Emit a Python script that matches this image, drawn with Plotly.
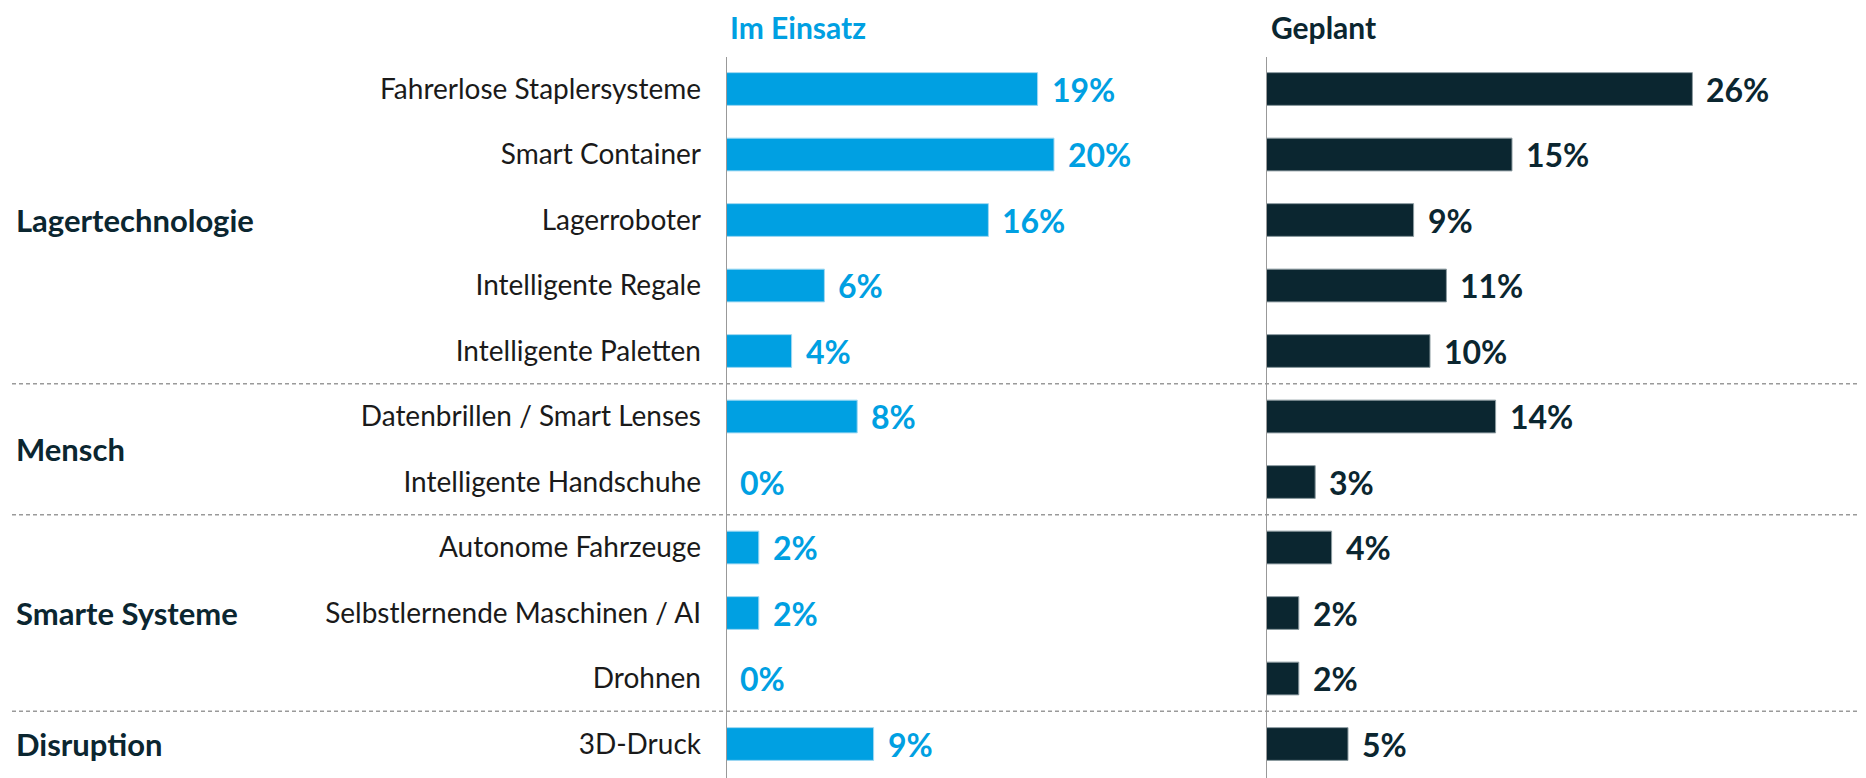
import plotly.graph_objects as go
from plotly.subplots import make_subplots

# Daten
kategorien = [
    "Fahrerlose Staplersysteme", "Smart Container", "Lagerroboter",
    "Intelligente Regale", "Intelligente Paletten",
    "Datenbrillen / Smart Lenses", "Intelligente Handschuhe",
    "Autonome Fahrzeuge", "Selbstlernende Maschinen / AI", "Drohnen",
    "3D-Druck",
]
im_einsatz = [19, 20, 16, 6, 4, 8, 0, 2, 2, 0, 9]
geplant = [26, 15, 9, 11, 10, 14, 3, 4, 2, 2, 5]

gruppen = ["Lagertechnologie", "Mensch", "Smarte Systeme", "Disruption"]
gruppen_pos = [2, 5.5, 8, 10]
trenner_pos = [4.5, 6.5, 9.5]

BLAU = "#00A0E2"
DUNKEL = "#0B2630"
FONT = "Lato"

# die Seite hat 8px Rand, daher Figur etwas kleiner
W, H = 1858, 770
px_pro_prozent = 16.4
links_x0, rechts_x0 = 718, 1258
zeile0, zeile_abstand = 81, 65.5

fig = make_subplots(rows=1, cols=2, shared_yaxes=True, horizontal_spacing=0)

fig.add_trace(go.Bar(
    y=kategorien, x=im_einsatz, orientation="h", marker_color=BLAU,
    marker_line=dict(color="#9FD8F2", width=1), width=0.5, showlegend=False,
), row=1, col=1)
fig.add_trace(go.Bar(
    y=kategorien, x=geplant, orientation="h", marker_color=DUNKEL,
    marker_line=dict(color="#8C9BA0", width=1), width=0.5, showlegend=False,
), row=1, col=2)

# Wertebeschriftungen
for kat, v in zip(kategorien, im_einsatz):
    fig.add_annotation(x=v, y=kat, xref="x", yref="y", text=f"<b>{v}%</b>",
                       showarrow=False, xanchor="left", yanchor="middle", xshift=12,
                       font=dict(family=FONT, size=32, color=BLAU))
for kat, v in zip(kategorien, geplant):
    fig.add_annotation(x=v, y=kat, xref="x2", yref="y", text=f"<b>{v}%</b>",
                       showarrow=False, xanchor="left", yanchor="middle", xshift=12,
                       font=dict(family=FONT, size=32, color=DUNKEL))

# Gruppenbeschriftungen
for g, p in zip(gruppen, gruppen_pos):
    fig.add_annotation(x=6 / W, y=p, xref="paper", yref="y", text=f"<b>{g}</b>",
                       showarrow=False, xanchor="left", yanchor="middle",
                       font=dict(family=FONT, size=31, color=DUNKEL))

# Spaltentitel
fig.add_annotation(x=721 / W, y=1, xref="paper", yref="paper",
                   text="<b>Im Einsatz</b>", showarrow=False,
                   xanchor="left", yanchor="top", borderpad=0,
                   font=dict(family=FONT, size=30, color=BLAU))
fig.add_annotation(x=1262 / W, y=1, xref="paper", yref="paper",
                   text="<b>Geplant</b>", showarrow=False,
                   xanchor="left", yanchor="top", borderpad=0,
                   font=dict(family=FONT, size=30, color=DUNKEL))

# gestrichelte Trennlinien
for t in trenner_pos:
    fig.add_shape(type="line", xref="paper", yref="y", x0=4 / W, x1=1, y0=t, y1=t,
                  line=dict(color="#9A9A9A", width=1.5, dash="4px,3px"), layer="below")

# senkrechte Achsenlinien
for xr in ["x", "x2"]:
    fig.add_shape(type="line", xref=xr, yref="paper", x0=0, x1=0, y0=0, y1=1 - 49 / H,
                  line=dict(color="#999999", width=2), layer="above")

fig.update_xaxes(visible=False, showgrid=False, zeroline=False)
fig.update_layout(
    xaxis=dict(domain=[links_x0 / W, rechts_x0 / W],
               range=[0, (rechts_x0 - links_x0) / px_pro_prozent]),
    xaxis2=dict(domain=[rechts_x0 / W, 1],
                range=[0, (W - rechts_x0) / px_pro_prozent]),
    yaxis=dict(range=[(H - zeile0) / zeile_abstand, -zeile0 / zeile_abstand],
               showgrid=False, zeroline=False, showline=False, ticks="",
               ticklabelstandoff=24,
               tickfont=dict(family=FONT, size=28, color="#1A1A1A")),
    yaxis2=dict(showticklabels=False, showgrid=False, zeroline=False),
    width=W, height=H, margin=dict(l=0, r=0, t=0, b=0),
    plot_bgcolor="white", paper_bgcolor="white", bargap=0.5,
)

fig.write_html("out.html")
